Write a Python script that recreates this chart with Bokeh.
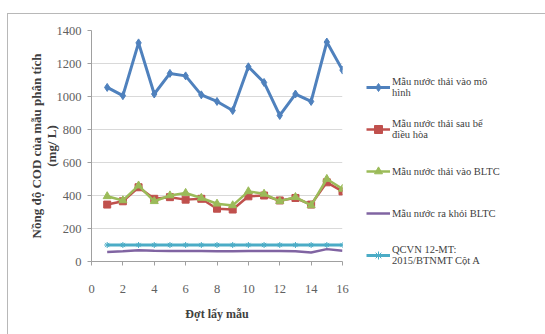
from bokeh.plotting import figure
from bokeh.models import Legend, LegendItem, Range1d, FixedTicker
from bokeh.embed import file_html
from bokeh.resources import INLINE

x = list(range(1, 17))
mau_vao_mo_hinh = [1055, 1005, 1325, 1015, 1140, 1125, 1010, 970, 915, 1180, 1085, 885, 1015, 970, 1330, 1160]
mau_sau_be_dieu_hoa = [345, 365, 450, 380, 390, 375, 380, 320, 315, 395, 400, 370, 385, 345, 480, 425]
mau_vao_bltc = [395, 370, 460, 365, 400, 415, 385, 350, 340, 425, 410, 365, 390, 340, 500, 440]
mau_ra_bltc = [58, 62, 68, 65, 64, 63, 64, 62, 62, 63, 64, 64, 62, 55, 75, 65]
qcvn = [100] * 16

labels = ["Mẫu nước thải vào mô\nhình",
          "Mẫu nước thải sau bể\nđiều hòa",
          "Mẫu nước thải vào BLTC",
          "Mẫu nước ra khỏi BLTC",
          "QCVN 12-MT:\n2015/BTNMT Cột A"]
x_ticks = [0, 2, 4, 6, 8, 10, 12, 14, 16]
y_ticks = [0, 200, 400, 600, 800, 1000, 1200, 1400]

FONT = "Liberation Serif"

p = figure(frame_width=251, frame_height=231, output_backend="svg", toolbar_location=None,
           x_range=Range1d(0, 16), y_range=Range1d(0, 1400),
           min_border_left=83, min_border_right=196, min_border_top=16, min_border_bottom=74)
p.margin = (13, 0, 0, 7)
p.styles = {"border": "1px solid #b8b8b8", "box-sizing": "border-box"}
p.outline_line_color = None
p.background_fill_color = "white"
p.border_fill_color = "white"

p.xgrid.grid_line_color = None
p.ygrid.grid_line_color = "#d9d9d9"
p.ygrid.grid_line_width = 1

p.xaxis.ticker = FixedTicker(ticks=x_ticks)
p.yaxis.ticker = FixedTicker(ticks=y_ticks)
for ax in (p.xaxis, p.yaxis):
    ax.axis_line_color = "#a0a0a0"
    ax.major_tick_line_color = "#a0a0a0"
    ax.minor_tick_line_color = None
    ax.major_label_text_font = FONT
    ax.major_label_text_font_size = "12.5px"
    ax.major_label_text_color = "#606060"
    ax.axis_label_text_font = FONT
    ax.axis_label_text_font_style = "bold"
    ax.axis_label_text_color = "#404040"
p.xaxis.axis_label_text_font_size = "12px"
p.yaxis.axis_label_text_font_size = "13px"
p.yaxis.axis_label_text_line_height = 1.0
p.xaxis.major_tick_in = 0
p.xaxis.major_tick_out = 4
p.yaxis.major_tick_in = 0
p.yaxis.major_tick_out = 4
p.xaxis.major_label_standoff = 19
p.yaxis.major_label_standoff = 6
p.xaxis.axis_label = "Đợt lấy mẫu"
p.xaxis.axis_label_standoff = 11
p.yaxis.axis_label = "Nồng độ COD của mẫu phân tích\n(mg/ L)"
p.yaxis.axis_label_standoff = -5

r1 = p.line(x, mau_vao_mo_hinh, line_color="#4F81BD", line_width=3)
m1 = p.scatter(x, mau_vao_mo_hinh, marker="diamond", size=8, fill_color="#4F81BD", line_color="#4F81BD")
r2 = p.line(x, mau_sau_be_dieu_hoa, line_color="#C0504D", line_width=2.5)
m2 = p.scatter(x, mau_sau_be_dieu_hoa, marker="square", size=7, fill_color="#C0504D", line_color="#C0504D")
r3 = p.line(x, mau_vao_bltc, line_color="#9BBB59", line_width=2.5)
m3 = p.scatter(x, mau_vao_bltc, marker="triangle", size=8, fill_color="#9BBB59", line_color="#9BBB59")
r4 = p.line(x, mau_ra_bltc, line_color="#8064A2", line_width=2.5)
r5 = p.line(x, qcvn, line_color="#4BACC6", line_width=3)
m5 = p.scatter(x, qcvn, marker="asterisk", size=6, line_color="#4BACC6")

legend = Legend(items=[
    LegendItem(label=labels[0], renderers=[r1, m1]),
    LegendItem(label=labels[1], renderers=[r2, m2]),
    LegendItem(label=labels[2], renderers=[r3, m3]),
    LegendItem(label=labels[3], renderers=[r4]),
    LegendItem(label=labels[4], renderers=[r5, m5]),
], location=(24, -9))
legend.background_fill_alpha = 0
legend.border_line_color = None
legend.label_text_font = FONT
legend.label_text_font_size = "10.5px"
legend.label_text_color = "#404040"
legend.label_height = 30
legend.spacing = 12
legend.glyph_width = 24
legend.label_standoff = 2
legend.padding = 0
legend.margin = 0
p.add_layout(legend, "right")

open("out.html", "w").write(file_html(p, INLINE))
